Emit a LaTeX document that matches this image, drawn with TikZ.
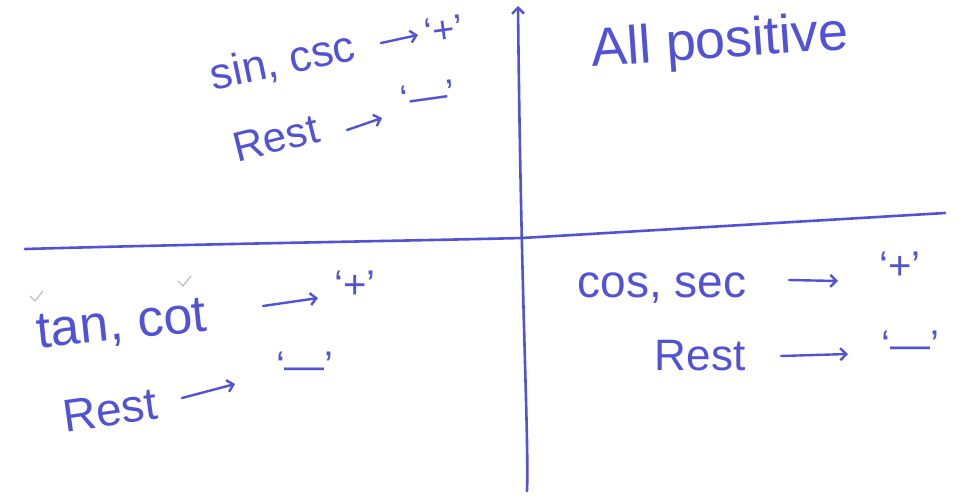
\documentclass[tikz,border=0pt]{standalone}
\usepackage{fontspec}
\setmainfont{Liberation Sans}
\usetikzlibrary{arrows.meta}
\definecolor{ink}{RGB}{82,82,214}
\definecolor{faint}{RGB}{190,190,200}
\tikzset{
  ink/.style={draw=ink, line width=2.6pt, line cap=round, line join=round},
  hand/.style={text=ink, inner sep=0pt},
  sz/.style={font=\fontsize{#1}{#1}\selectfont},
  tip/.style={-{Straight Barb[length=6pt,width=12pt,line width=2.4pt]}},
  conn/.style={ink, tip, line width=2.4pt},
}
\begin{document}
\begin{tikzpicture}[x=1pt,y=-1pt]
\useasboundingbox (0,0) rectangle (961,501);
\fill[white] (0,0) rectangle (961,501);

% axes
\coordinate (vb) at (527,491);
\coordinate (vt) at (518,6);
\draw[ink, tip] (vb) .. controls (529,440) and (521,300) .. (vt);
\coordinate (hl) at (25,249);
\coordinate (hm) at (522,238);
\coordinate (hr) at (945,213);
\draw[ink] (hl) .. controls (200,244) and (400,241) .. (hm) -- (hr);

% Q2
\node[hand, sz=44, rotate=12] (sc) at (283,62) {sin, csc};
\node[hand, sz=38, rotate=8] (p1) at (444,30) {‘+’};
\coordinate (a1s) at (381,43); \coordinate (a1e) at (418,35);
\draw[conn] (a1s) -- (a1e);
\node[hand, sz=42, rotate=14] (r1) at (276,138) {Rest};
\node[hand, sz=38, rotate=8] (m1) at (428,96) {‘—’};
\coordinate (a2s) at (347,130); \coordinate (a2e) at (382,118);
\draw[conn] (a2s) -- (a2e);

% Q1
\node[hand, sz=54, rotate=4] (ap) at (720,44) {All positive};

% Q3
\node[hand, sz=52, rotate=6] (tc) at (122,326) {tan, cot};
\node[hand, sz=40] (p2) at (355,285) {‘+’};
\coordinate (a3s) at (263,306); \coordinate (a3e) at (318,298);
\draw[conn] (a3s) -- (a3e);
\node[hand, sz=46, rotate=8] (r2) at (110,410) {Rest};
\node[hand, sz=40] (m2) at (305,366) {‘—’};
\coordinate (a4s) at (182,398); \coordinate (a4e) at (235,384);
\draw[conn] (a4s) -- (a4e);

% Q4
\node[hand, sz=46] (cs) at (662,288) {cos, sec};
\node[hand, sz=40] (p3) at (900,266) {‘+’};
\coordinate (a5s) at (789,280); \coordinate (a5e) at (838,281);
\draw[conn] (a5s) -- (a5e);
\node[hand, sz=44] (r3) at (700,356) {Rest};
\node[hand, sz=40] (m3) at (910,345) {‘—’};
\coordinate (a6s) at (781,356); \coordinate (a6e) at (848,354);
\draw[conn] (a6s) -- (a6e);

% faint check marks
\draw[faint, line width=1.2pt, line cap=round] (30,296) -- (35,301) -- (43,291);
\draw[faint, line width=1.2pt, line cap=round] (178,281) -- (183,286) -- (191,276);
\end{tikzpicture}
\end{document}
